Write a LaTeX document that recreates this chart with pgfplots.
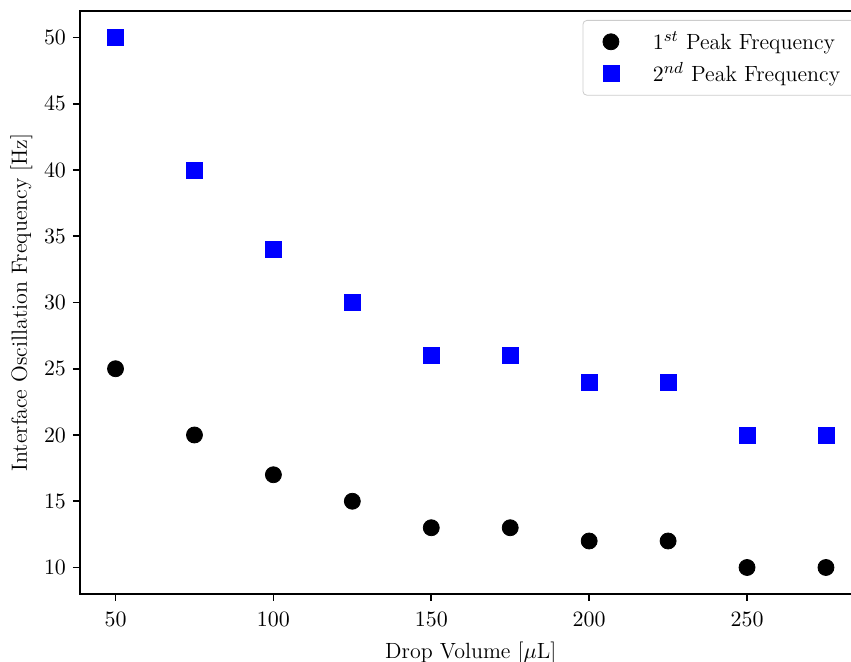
\documentclass[border=0pt]{standalone}
\usepackage{pgfplots}
\pgfplotsset{compat=1.18}
\begin{document}
\begin{tikzpicture}[font=\fontsize{11}{13.5}\selectfont]
\begin{axis}[
  at={(0,0)}, anchor=south west,
  scale only axis,
  width=390.75pt, height=291.5pt,
  xmin=38.75, xmax=286.25,
  ymin=8, ymax=52,
  xtick={50,100,150,200,250},
  ytick={10,15,20,25,30,35,40,45,50},
  tick align=outside,
  tick pos=left,
  major tick length=3.5pt,
  every tick/.style={black, line width=0.8pt},
  axis line style={line width=0.8pt},
  tick label style={font=\fontsize{11}{13.5}\selectfont},
  xticklabel style={yshift=-2pt},
  label style={font=\fontsize{11}{13.5}\selectfont},
  xlabel={Drop Volume [$\mu$L]},
  ylabel={Interface Oscillation Frequency [Hz]},
  xlabel style={yshift=-1pt},
  ylabel style={yshift=-1pt},
  legend style={at={(rel axis cs:1,1)}, anchor=north east, xshift=1.5pt, yshift=-4.5pt,
    draw=black!20, rounded corners=2pt, font=\fontsize{11}{13.5}\selectfont, row sep=1pt,
    column sep=15pt, inner xsep=10pt, inner ysep=3.5pt},
  legend cell align=left,
  clip=false,
]
\addplot[only marks, mark=*, mark size=4pt, black, mark options={fill=black}] coordinates {
(50,25) (75,20) (100,17) (125,15) (150,13) (175,13) (200,12) (225,12) (250,10) (275,10)};
\addlegendentry{$1^{st}$ Peak Frequency}
\addplot[only marks, mark=square*, mark size=4pt, blue, mark options={fill=blue}] coordinates {
(50,50) (75,40) (100,34) (125,30) (150,26) (175,26) (200,24) (225,24) (250,20) (275,20)};
\addlegendentry{$2^{nd}$ Peak Frequency}
\end{axis}
\pgfresetboundingbox
\useasboundingbox (-40pt,-34pt) rectangle (385.5pt,297pt);
\end{tikzpicture}
\end{document}
